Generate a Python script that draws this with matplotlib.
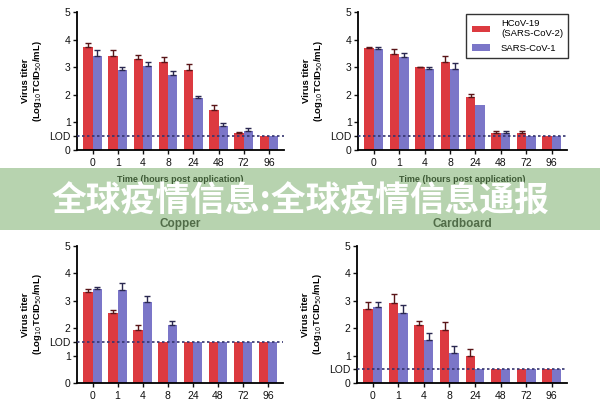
"""Virus titer by time on four surfaces, HCoV-19 vs SARS-CoV-1, with overlay banner."""

import matplotlib

matplotlib.use("Agg")

import matplotlib.pyplot as plt
import numpy as np
from matplotlib.patches import Rectangle


TIMES = ["0", "1", "4", "8", "24", "48", "72", "96"]
SERIES = ["HCoV-19\n(SARS-CoV-2)", "SARS-CoV-1"]

# top-left panel (title cut off in the reference)
TL_COV2 = [3.73, 3.40, 3.28, 3.20, 2.90, 1.44, 0.63, 0.50]
TL_COV2_ERR = [0.15, 0.22, 0.15, 0.18, 0.22, 0.20, 0.04, 0.0]
TL_COV1 = [3.42, 2.91, 3.06, 2.72, 1.87, 0.87, 0.69, 0.50]
TL_COV1_ERR = [0.20, 0.09, 0.12, 0.16, 0.10, 0.10, 0.10, 0.0]

# top-right panel (title cut off in the reference)
TR_COV2 = [3.68, 3.49, 3.00, 3.19, 1.93, 0.60, 0.60, 0.50]
TR_COV2_ERR = [0.06, 0.17, 0.02, 0.21, 0.09, 0.08, 0.08, 0.0]
TR_COV1 = [3.65, 3.38, 2.92, 2.95, 1.62, 0.60, 0.50, 0.50]
TR_COV1_ERR = [0.10, 0.15, 0.10, 0.19, 0.0, 0.08, 0.0, 0.0]

# copper
CU_COV2 = [3.31, 2.54, 1.93, 1.50, 1.50, 1.50, 1.50, 1.50]
CU_COV2_ERR = [0.13, 0.12, 0.20, 0.0, 0.0, 0.0, 0.0, 0.0]
CU_COV1 = [3.43, 3.41, 2.96, 2.10, 1.50, 1.50, 1.50, 1.50]
CU_COV1_ERR = [0.06, 0.24, 0.20, 0.16, 0.0, 0.0, 0.0, 0.0]

# cardboard
CB_COV2 = [2.71, 2.92, 2.10, 1.92, 0.97, 0.50, 0.50, 0.50]
CB_COV2_ERR = [0.26, 0.32, 0.15, 0.31, 0.28, 0.0, 0.0, 0.0]
CB_COV1 = [2.78, 2.54, 1.57, 1.11, 0.50, 0.50, 0.50, 0.50]
CB_COV1_ERR = [0.17, 0.30, 0.27, 0.24, 0.0, 0.0, 0.0, 0.0]

LOD_VALUES = [0.5, 0.5, 1.5, 0.5]
TITLES = [None, None, "Copper", "Cardboard"]
BANNER_TEXT = "全球疫情信息:全球疫情信息通报"

RED = "#dc3a40"
PURPLE = "#7b76c8"
plt.rcParams["font.family"] = ["Liberation Sans", "DejaVu Sans"]


def draw_panel(ax, cov2, cov2_err, cov1, cov1_err, lod, title, show_xlabel):
    x = np.arange(len(TIMES))
    w = 0.37
    zeros = np.zeros(len(TIMES))
    ax.bar(x - w / 2, cov2, width=w, color=RED, zorder=2, label=SERIES[0])
    ax.bar(x + w / 2, cov1, width=w, color=PURPLE, zorder=2, label=SERIES[1])
    for xs, vals, errs, c in ((x - w / 2, cov2, cov2_err, "#5a1518"), (x + w / 2, cov1, cov1_err, "#2a2850")):
        errs = np.asarray(errs)
        keep = errs > 0
        ax.errorbar(xs[keep], np.asarray(vals)[keep], yerr=[zeros[keep], errs[keep]], fmt="none",
                    ecolor=c, elinewidth=1.0, capsize=2.2, capthick=1.0, zorder=3)
    ax.axhline(lod, color="#34346e", linewidth=1.2, linestyle=(0, (1.5, 1.5)), zorder=4)
    ax.set_xlim(-0.62, 7.6)
    ax.set_ylim(0, 5)
    ticks = sorted([0, 1, 2, 3, 4, 5, lod])
    ax.set_yticks(ticks)
    ax.set_yticklabels(["LOD" if t == lod else str(int(t)) for t in ticks])
    ax.set_xticks(x)
    ax.set_xticklabels(TIMES)
    ax.tick_params(axis="both", labelsize=7.5, length=3, width=1.0, pad=1.5, colors="#111111")
    ax.tick_params(axis="x", pad=3)
    for side in ("top", "right"):
        ax.spines[side].set_visible(False)
    for side in ("left", "bottom"):
        ax.spines[side].set_linewidth(1.3)
    ax.set_ylabel("Virus titer\n(Log$_{10}$TCID$_{50}$/mL)", fontsize=6.8, fontweight="bold", labelpad=4, linespacing=1.1)
    if show_xlabel:
        ax.set_xlabel("Time (hours post application)", fontsize=6.5, fontweight="bold", labelpad=5, color="#222222")
    if title:
        ax.set_title(title, fontsize=8.5, fontweight="bold", color="#444444", pad=14)


def main():
    fig = plt.figure(figsize=(6, 4), dpi=100)
    fig.patch.set_facecolor("white")
    boxes = [
        (77 / 600, 1 - 150 / 400, 207 / 600, 138 / 400),
        (358 / 600, 1 - 150 / 400, 209 / 600, 138 / 400),
        (77 / 600, 1 - 383 / 400, 206 / 600, 137 / 400),
        (357 / 600, 1 - 383 / 400, 210 / 600, 137 / 400),
    ]
    data = [
        (TL_COV2, TL_COV2_ERR, TL_COV1, TL_COV1_ERR),
        (TR_COV2, TR_COV2_ERR, TR_COV1, TR_COV1_ERR),
        (CU_COV2, CU_COV2_ERR, CU_COV1, CU_COV1_ERR),
        (CB_COV2, CB_COV2_ERR, CB_COV1, CB_COV1_ERR),
    ]
    axes = []
    for i, (box, d) in enumerate(zip(boxes, data)):
        ax = fig.add_axes(box)
        draw_panel(ax, *d, LOD_VALUES[i], TITLES[i], show_xlabel=i < 2)
        axes.append(ax)

    leg = axes[1].legend(loc="upper right", bbox_to_anchor=(573 / 600, 1 - 9 / 400),
                         bbox_transform=fig.transFigure, fontsize=6.8, frameon=True, fancybox=False,
                         handlelength=1.9, handleheight=0.7, borderpad=0.55, labelspacing=0.6,
                         handletextpad=1.2)
    leg.get_frame().set_edgecolor("black")
    leg.get_frame().set_linewidth(1.0)

    # translucent green banner on top of everything
    fig.patches.append(Rectangle((0, 1 - 230 / 400), 1, 62 / 400, transform=fig.transFigure,
                                 facecolor="#619f4f", alpha=0.45, edgecolor="none", zorder=10))
    fig.text(0.5, 1 - 201 / 400, BANNER_TEXT, ha="center", va="center", color="white",
             fontsize=25, fontweight="bold", family=["Noto Sans CJK SC", "DejaVu Sans"], zorder=11)

    fig.savefig("out.png", dpi=100, facecolor="white")
    plt.close(fig)


if __name__ == "__main__":
    main()
